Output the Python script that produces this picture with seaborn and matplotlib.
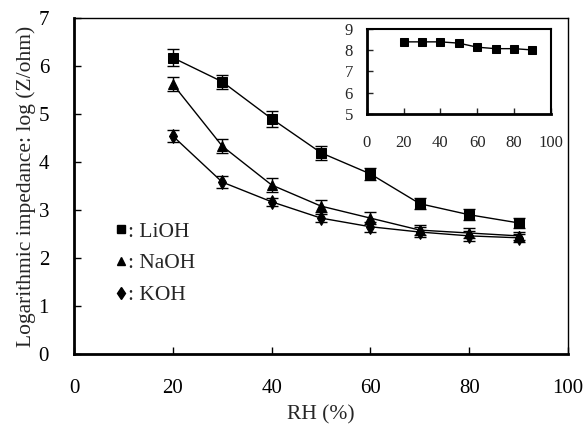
import pandas as pd
import matplotlib.pyplot as plt
import seaborn as sns
from matplotlib.lines import Line2D

# valores
rh = [20, 30, 40, 50, 60, 70, 80, 90]
lioh = [6.17, 5.67, 4.90, 4.19, 3.75, 3.13, 2.90, 2.73]
naoh = [5.62, 4.33, 3.52, 3.08, 2.83, 2.58, 2.52, 2.46]
koh = [4.54, 3.58, 3.17, 2.83, 2.65, 2.54, 2.46, 2.42]
lioh_err = [0.18, 0.15, 0.17, 0.15, 0.12, 0.12, 0.11, 0.11]
naoh_err = [0.14, 0.15, 0.15, 0.12, 0.12, 0.10, 0.10, 0.08]
koh_err = [0.13, 0.12, 0.08, 0.08, 0.10, 0.10, 0.10, 0.08]

# inset (LiOH)
rh_inset = [20, 30, 40, 50, 60, 70, 80, 90]
lioh_inset = [8.39, 8.39, 8.39, 8.33, 8.14, 8.07, 8.07, 8.01]

sns.set_style("white")
plt.rcParams['font.family'] = ['Liberation Serif', 'DejaVu Serif']

fig = plt.figure(figsize=(5.85, 4.25), dpi=100)
ax = fig.add_axes([0.1265, 0.167, 0.8445, 0.791])

series = [("LiOH", lioh, lioh_err, "s", 6.5),
          ("NaOH", naoh, naoh_err, "^", 7),
          ("KOH", koh, koh_err, "d", 7.5)]

for nome, vals, err, mk, ms in series:
    df = pd.DataFrame({"RH": rh, "Z": vals})
    sns.lineplot(data=df, x="RH", y="Z", ax=ax, color="black", linewidth=1,
                 marker=mk, markersize=ms, markeredgecolor="black")
    ax.errorbar(rh, vals, yerr=err, fmt="none", ecolor="black",
                elinewidth=1, capsize=4, capthick=1)

ax.set_xlim(0, 100)
ax.set_ylim(0, 7)
ax.set_xticks([0, 20, 40, 60, 80, 100])
ax.set_yticks(range(0, 8))
ax.tick_params(direction="in", length=5, width=1, pad=18, labelsize=15,
               left=True, bottom=True, colors="black")
ax.set_xlabel("RH (%)", fontsize=15.5, labelpad=5)
ax.set_ylabel("Logarithmic impedance: log (Z/ohm)", fontsize=15.5, labelpad=2)
for lado in ["left", "bottom"]:
    ax.spines[lado].set_linewidth(2)
for lado in ["top", "right"]:
    ax.spines[lado].set_linewidth(1)
for s in ax.spines.values():
    s.set_color("black")

handles = [Line2D([], [], color="black", marker=mk, linestyle="none",
                  markersize=ms * 0.8) for _, _, _, mk, ms in series]
ax.legend(handles, [": LiOH", ": NaOH", ": KOH"], loc="upper left",
          bbox_to_anchor=(0.062, 0.42), frameon=False, fontsize=15.5,
          handletextpad=0.0, handlelength=0.7, labelspacing=0.55,
          borderaxespad=0)

# gráfico interno
axi = fig.add_axes([0.627, 0.732, 0.3145, 0.2])
dfi = pd.DataFrame({"RH": rh_inset, "Z": lioh_inset})
sns.lineplot(data=dfi, x="RH", y="Z", ax=axi, color="black", linewidth=1,
             marker="s", markersize=6, markeredgecolor="black")
axi.set_xlim(0, 100)
axi.set_ylim(5, 9)
axi.set_xticks([0, 20, 40, 60, 80, 100])
axi.set_yticks([5, 6, 7, 8, 9])
axi.tick_params(axis="x", direction="in", length=4, width=1, pad=15,
                labelsize=12, bottom=True)
axi.tick_params(axis="y", direction="in", length=4, width=1, pad=10,
                labelsize=12, left=True)
axi.set_xlabel("")
axi.set_ylabel("")
for lado in ["left", "bottom"]:
    axi.spines[lado].set_linewidth(2)
for lado in ["top", "right"]:
    axi.spines[lado].set_linewidth(1.5)
for s in axi.spines.values():
    s.set_color("black")

plt.savefig("out.png", dpi=100)
